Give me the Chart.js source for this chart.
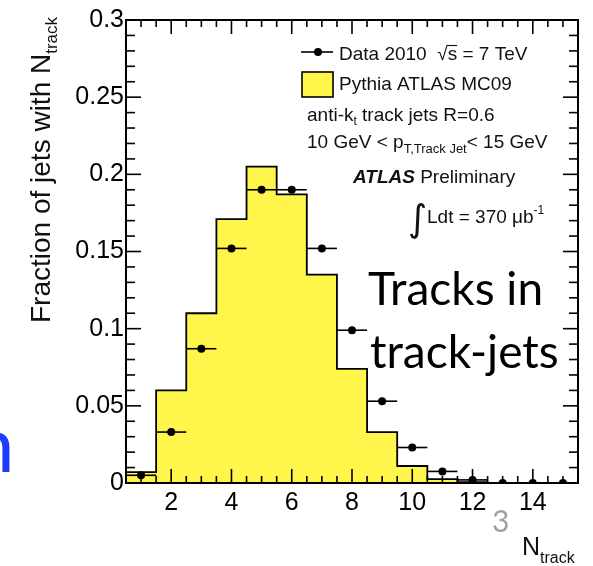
<!DOCTYPE html>
<html><head><meta charset="utf-8">
<script src="https://cdn.jsdelivr.net/npm/chart.js@4.4.1/dist/chart.umd.min.js"></script>
<style>html,body{margin:0;padding:0;background:#fff;overflow:hidden}#wrap{position:relative;width:593px;height:566px}</style>
</head><body><div id="wrap"><canvas id="c" width="593" height="566"></canvas></div>
<script>
// ---- data ----
const nTrack = [1,2,3,4,5,6,7,8,9,10,11,12,13,14,15];
const mcFraction = [0.007,0.060,0.110,0.171,0.205,0.187,0.135,0.074,0.033,0.011,0.0025,0.0005,0,0,0];
const dataFraction = [0.005,0.033,0.087,0.152,0.190,0.190,0.152,0.099,0.053,0.023,0.0075,0.002,0,0,0];
const binHalfWidth = 0.5;
const xTickValues = [2,4,6,8,10,12,14];
const yTickValues = [0,0.05,0.1,0.15,0.2,0.25,0.3];
const yTickLabels = ['0','0.05','0.1','0.15','0.2','0.25','0.3'];

// histogram outline points built from bins
const mcSteps = [];
nTrack.forEach((n,i)=>{ mcSteps.push({x:n-binHalfWidth,y:mcFraction[i]}); mcSteps.push({x:n+binHalfWidth,y:mcFraction[i]}); });
const dataPoints = nTrack.map((n,i)=>({x:n,y:dataFraction[i]}));

const SANS = '"Liberation Sans", Arial, sans-serif';

function rich(ctx, x, y, parts){
  let cx = x;
  for (const p of parts){
    ctx.font = p.f;
    ctx.fillText(p.t, cx, y + (p.dy||0));
    cx += ctx.measureText(p.t).width;
  }
  return cx;
}

const errorBars = {
  id:'errorBars',
  afterDatasetsDraw(chart){
    const {ctx, scales:{x,y}} = chart;
    ctx.save(); ctx.strokeStyle='#000'; ctx.lineWidth=1.6;
    dataPoints.forEach(p=>{
      const py = y.getPixelForValue(p.y);
      ctx.beginPath();
      ctx.moveTo(x.getPixelForValue(p.x-binHalfWidth), py);
      ctx.lineTo(x.getPixelForValue(p.x+binHalfWidth), py);
      ctx.stroke();
    });
    ctx.restore();
  }
};

const frameTicks = {
  id:'frameTicks',
  afterDatasetsDraw(chart){
    const {ctx, chartArea:a, scales:{x,y}} = chart;
    ctx.save(); ctx.strokeStyle='#000'; ctx.lineWidth=1.6;
    const line=(x1,y1,x2,y2)=>{ctx.beginPath();ctx.moveTo(x1,y1);ctx.lineTo(x2,y2);ctx.stroke();};
    for (let k=2;k<=30;k++){
      const v=k/2; const px=x.getPixelForValue(v);
      const major = (k%4===0); const L = major?14:7;
      line(px,a.bottom,px,a.bottom-L); line(px,a.top,px,a.top+L);
    }
    for (let k=1;k<30;k++){
      const v=k/100; const py=y.getPixelForValue(v);
      const major=(k%5===0); const L=major?15:9;
      line(a.left,py,a.left+L,py); line(a.right,py,a.right-L,py);
    }
    ctx.lineWidth=2;
    ctx.strokeRect(a.left,a.top,a.right-a.left,a.bottom-a.top);
    ctx.restore();
  }
};

const annotations = {
  id:'annotations',
  afterDraw(chart){
    const ctx = chart.ctx;
    ctx.save();
    ctx.fillStyle='#111'; ctx.textBaseline='alphabetic'; ctx.textAlign='left';
    // legend: data marker
    ctx.strokeStyle='#000'; ctx.lineWidth=1.6;
    ctx.beginPath(); ctx.moveTo(301,52); ctx.lineTo(333,52); ctx.stroke();
    ctx.beginPath(); ctx.arc(318,52,4,0,Math.PI*2); ctx.fillStyle='#000'; ctx.fill();
    // legend: MC box
    ctx.fillStyle='#fff54b'; ctx.fillRect(302,72,31,25);
    ctx.lineWidth=1.6; ctx.strokeRect(302,72,31,25);
    ctx.fillStyle='#111';
    let cx = rich(ctx,339,60,[{t:'Data 2010  \u221A',f:'19px '+SANS}]);
    ctx.font='19px '+SANS; const sw=ctx.measureText('s').width;
    ctx.fillText('s',cx,60);
    ctx.lineWidth=1.1; ctx.strokeStyle='#111';
    ctx.beginPath(); ctx.moveTo(cx-1,45.5); ctx.lineTo(cx+sw,45.5); ctx.stroke();
    ctx.fillText(' = 7 TeV',cx+sw,60);
    rich(ctx,339,90,[{t:'Pythia ATLAS MC09',f:'19px '+SANS}]);
    rich(ctx,307,121,[{t:'anti-k',f:'19px '+SANS},{t:'t',f:'12px '+SANS,dy:4},{t:' track jets R=0.6',f:'19px '+SANS}]);
    rich(ctx,307,148,[{t:'10 GeV < p',f:'19px '+SANS},{t:'T,Track Jet',f:'13px '+SANS,dy:5},{t:'< 15 GeV',f:'19px '+SANS}]);
    rich(ctx,353,183,[{t:'ATLAS',f:'italic bold 19px '+SANS},{t:' Preliminary',f:'19px '+SANS}]);
    rich(ctx,408,231,[{t:'\u222B',f:'37px "DejaVu Sans"'}]);
    rich(ctx,427,223,[{t:'Ldt = 370 \u03BCb',f:'19px '+SANS},{t:'-1',f:'12px '+SANS,dy:-9}]);
    // axis titles
    ctx.fillStyle='#111';
    rich(ctx,522,555,[{t:'N',f:'25px '+SANS},{t:'track',f:'16px '+SANS,dy:8}]);
    ctx.save(); ctx.translate(50,323); ctx.rotate(-Math.PI/2);
    rich(ctx,0,0,[{t:'Fraction of jets with N',f:'28px '+SANS},{t:'track',f:'17px '+SANS,dy:7}]);
    ctx.restore();
    // slide overlay text
    ctx.fillStyle='#000';
    rich(ctx,368,305,[{t:'Tracks in',f:'46px Lato'}]);
    rich(ctx,370,368,[{t:'track-jets',f:'46px Lato'}]);
    ctx.fillStyle='#a0a0a0';
    rich(ctx,492,532,[{t:'3',f:'30px Lato'}]);
    ctx.fillStyle='#1f3cff';
    ctx.font='78px Lato'; const m=ctx.measureText('n');
    ctx.fillText('n',10-m.actualBoundingBoxRight,472);
    ctx.restore();
  }
};

new Chart(document.getElementById('c'), {
  data:{ datasets:[
    { type:'line', label:'Pythia ATLAS MC09', data:mcSteps, fill:'origin', backgroundColor:'#fff54b',
      borderColor:'#000', borderWidth:1.8, pointRadius:0, tension:0, order:2 },
    { type:'scatter', label:'Data 2010', data:dataPoints, pointRadius:4, pointBackgroundColor:'#000',
      pointBorderColor:'#000', pointBorderWidth:0, order:1 }
  ]},
  options:{
    responsive:false, animation:false, devicePixelRatio:1,
    layout:{padding:{top:20,right:15,left:0,bottom:0}},
    plugins:{legend:{display:false}, tooltip:{enabled:false}},
    scales:{
      x:{ type:'linear', min:0.5, max:15.5,
          grid:{display:false, drawTicks:false}, border:{display:false},
          afterBuildTicks:s=>{ s.ticks = xTickValues.map(v=>({value:v})); },
          afterFit:s=>{ s.height = 83; },
          ticks:{ font:{family:SANS,size:25}, color:'#000', padding:5, maxRotation:0, autoSkip:false,
                  callback:v=>String(v) } },
      y:{ type:'linear', min:0, max:0.3,
          grid:{display:false, drawTicks:false}, border:{display:false},
          afterBuildTicks:s=>{ s.ticks = yTickValues.map(v=>({value:v})); },
          afterFit:s=>{ s.width = 126; },
          ticks:{ font:{family:SANS,size:25}, color:'#000', padding:2, autoSkip:false,
                  callback:v=>yTickLabels[yTickValues.indexOf(v)] } }
    }
  },
  plugins:[errorBars, frameTicks, annotations]
});
</script></body></html>
